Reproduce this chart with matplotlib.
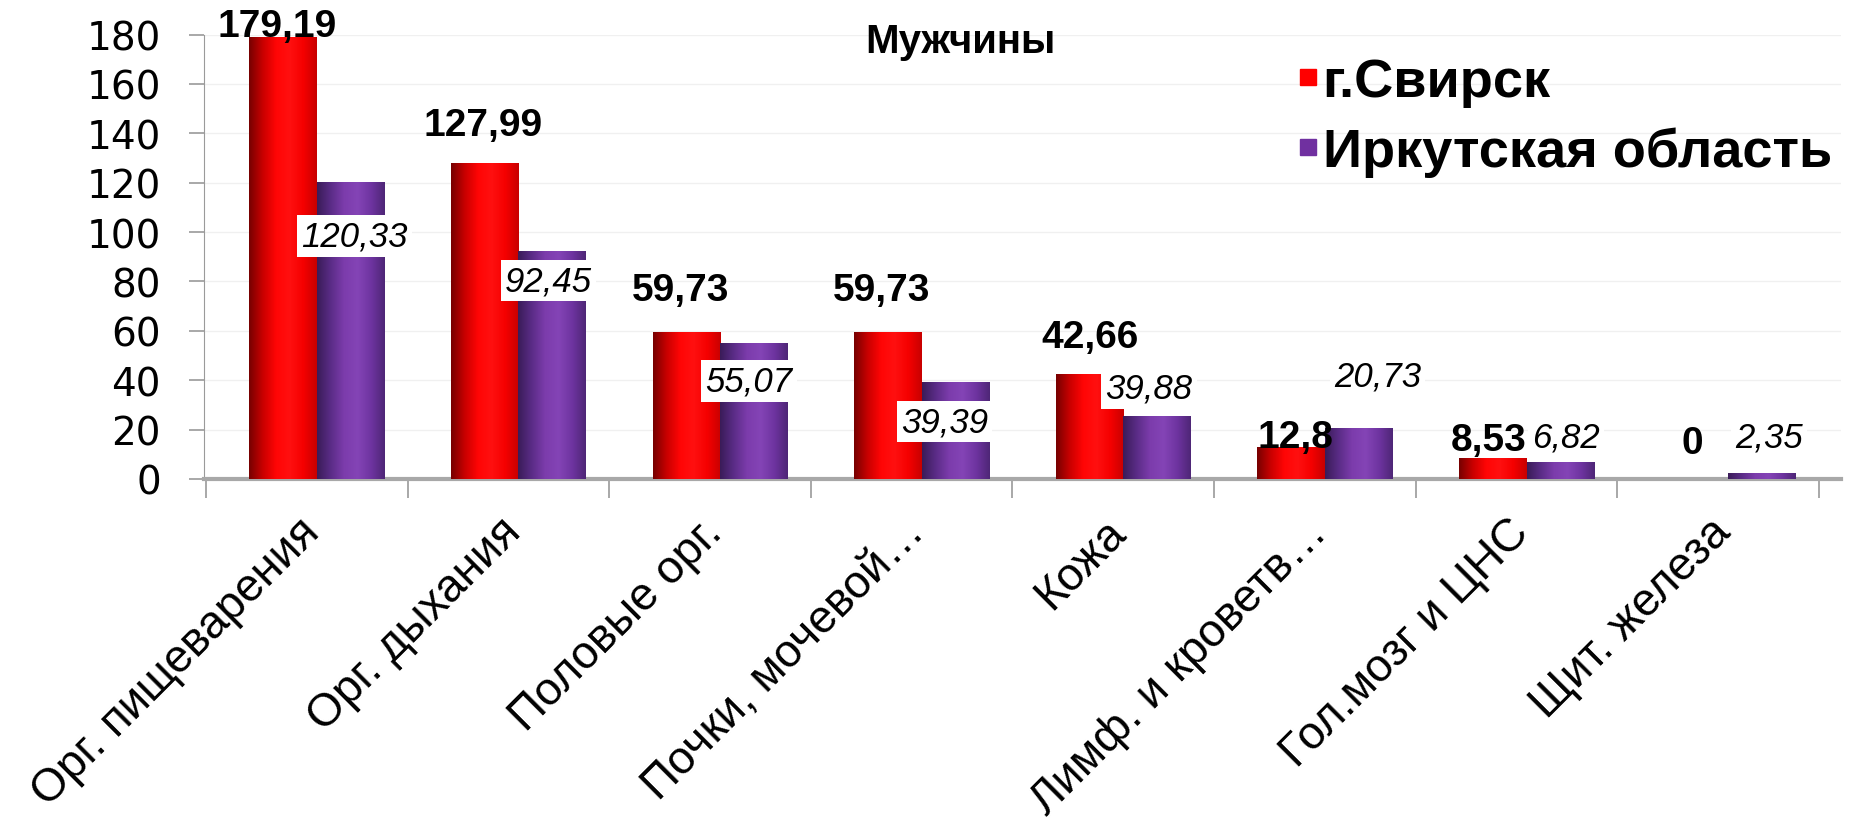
import numpy as np
import matplotlib
matplotlib.use("Agg")
import matplotlib.pyplot as plt
from matplotlib.colors import LinearSegmentedColormap
from matplotlib.lines import Line2D
from matplotlib.transforms import ScaledTranslation

plt.rcParams["font.family"] = ["Liberation Sans", "DejaVu Sans"]

categories = [
    "Орг. пищеварения", "Орг. дыхания", "Половые орг.", "Почки, мочевой…",
    "Кожа", "Лимф. и кроветв…", "Гол.мозг и ЦНС", "Щит. железа",
]
series_names = ["г.Свирск", "Иркутская область"]
svirsk = [179.19, 127.99, 59.73, 59.73, 42.66, 12.8, 8.53, 0]
irkutsk = [120.33, 92.45, 55.07, 39.39, 25.5, 20.73, 6.82, 2.35]
svirsk_labels = ["179,19", "127,99", "59,73", "59,73", "42,66", "12,8", "8,53", "0"]
irkutsk_labels = ["120,33", "92,45", "55,07", "39,39", "39,88", "20,73", "6,82", "2,35"]
y_ticks = [0, 20, 40, 60, 80, 100, 120, 140, 160, 180]

# label offsets from the top centre of each bar, in pixels
svirsk_offsets = [(-6, 11), (-2, 38), (-6, 42), (-6, 42), (0, 37), (4, 10), (-4, 18), (-2, 36)]
irkutsk_offsets = [(4, -54), (-4, -30), (-5, -38), (-11, -40), (-8, 28), (19, 52), (6, 25), (7, 36)]

red_cmap = LinearSegmentedColormap.from_list(
    "red3d", ["#760000", "#c80000", "#ff0505", "#ff1010", "#f50000", "#c80000"])
purple_cmap = LinearSegmentedColormap.from_list(
    "purple3d", ["#3a1c58", "#5a2c86", "#7c3cac", "#8444b6", "#6e34a0", "#4e2676"])

fig = plt.figure(figsize=(18.57, 8.2), dpi=100)
ax = fig.add_axes([204 / 1857, 1 - 480 / 820, 1637 / 1857, 444.5 / 820])

x = np.arange(len(categories))
w = 0.335
bars_r = ax.bar(x - w / 2, svirsk, w, color="#ff0000", linewidth=0, zorder=3)
bars_p = ax.bar(x + w / 2, irkutsk, w, color="#7030a0", linewidth=0, zorder=3)

grad = np.linspace(0, 1, 256).reshape(1, -1)
for bars, cmap in ((bars_r, red_cmap), (bars_p, purple_cmap)):
    for b in bars:
        h = b.get_height()
        if h <= 0:
            continue
        im = ax.imshow(grad, cmap=cmap, aspect="auto", zorder=3.5,
                       extent=(b.get_x(), b.get_x() + b.get_width(), 0, h))
        im.set_clip_path(b)

ax.set_xlim(-0.56, len(categories) - 0.44)
ax.set_ylim(0, 180)

for b, lab, (dx, dy) in zip(bars_r, svirsk_labels, svirsk_offsets):
    ax.annotate(lab, (b.get_x() + b.get_width() / 2, b.get_height()),
                xytext=(dx, dy), textcoords="offset pixels", ha="center", va="center",
                fontsize=28, fontweight="bold", zorder=6)
for b, lab, (dx, dy) in zip(bars_p, irkutsk_labels, irkutsk_offsets):
    ax.annotate(lab, (b.get_x() + b.get_width() / 2, b.get_height()),
                xytext=(dx, dy), textcoords="offset pixels", ha="center", va="center",
                fontsize=25, fontstyle="italic", zorder=6,
                bbox=dict(facecolor="white", edgecolor="none", pad=3))

# axes look
for s in ("top", "right"):
    ax.spines[s].set_visible(False)
ax.spines["left"].set_color("#9a9a9a")
ax.spines["bottom"].set_color("#a8a8a8")
ax.spines["bottom"].set_linewidth(3)
ax.set_yticks(y_ticks)
ax.tick_params(axis="y", colors="#9a9a9a", length=11, width=1.2, pad=20,
               labelcolor="black", labelsize=28)
for t in ax.get_yticklabels():
    t.set_fontfamily("DejaVu Sans")
ax.yaxis.grid(True, color="#f0f0f0", linewidth=1, zorder=0)

ax.set_xticks(np.arange(len(categories) + 1) - 0.55, minor=True)
ax.set_xticks(x)
ax.set_xticklabels(categories, rotation=45, ha="right", va="top",
                   rotation_mode="anchor", fontsize=33)
ax.tick_params(axis="x", which="major", length=0, pad=22)
ax.tick_params(axis="x", which="minor", length=14, width=1.2, colors="#9a9a9a")
shift = ScaledTranslation(-20 / 100, 0, fig.dpi_scale_trans)
for t in ax.get_xticklabels():
    t.set_transform(t.get_transform() + shift)

ax.text(0.4618, 0.985, "Мужчины", transform=ax.transAxes, ha="center", va="center",
        fontsize=29, fontweight="bold")

handles = [Line2D([], [], marker="s", linestyle="none", markersize=11, color="#ff0000"),
           Line2D([], [], marker="s", linestyle="none", markersize=11, color="#7030a0")]
fig.legend(handles, series_names, loc="upper left", bbox_to_anchor=(1300 / 1857, 1 - 58 / 820),
           frameon=False, prop={"weight": "bold", "size": 39}, borderpad=0, borderaxespad=0,
           handlelength=0.3, handletextpad=0.12, labelspacing=0.36)

fig.savefig("out.png", dpi=100)
